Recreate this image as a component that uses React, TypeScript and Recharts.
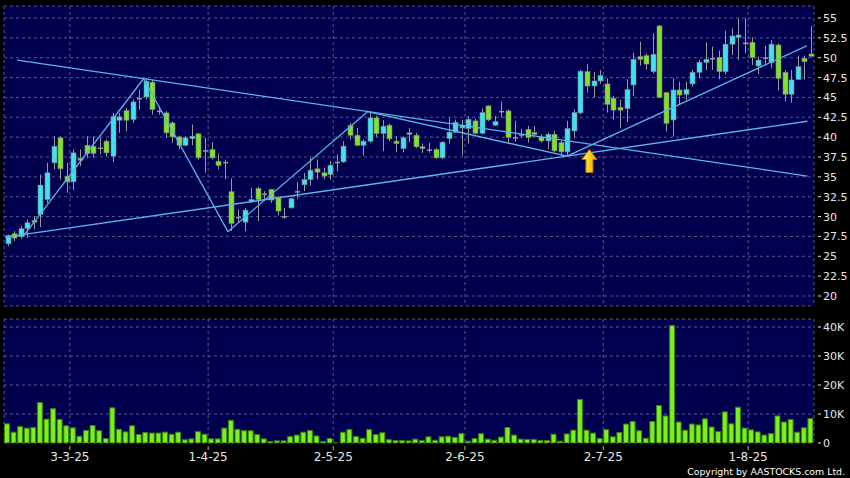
import {
  ComposedChart,
  Bar,
  XAxis,
  YAxis,
  CartesianGrid,
  ReferenceLine,
  ReferenceDot,
} from 'recharts';

const COLORS = {
  page: '#000000',
  panel: '#00004e',
  grid: '#58588c',
  up: '#3ee2f0',
  down: '#80e22a',
  wick: '#9a9a9a',
  edge: '#808080',
  volume: '#7af01c',
  volumeEdge: '#3a7f0c',
  trend: '#5cb4e8',
  text: '#e6e6e6',
};

const FONT = 'DejaVu Sans, Verdana, sans-serif';

// daily candles, oldest first
const openP = [
  26.58, 27.84, 27.46, 28.47, 29.51, 30.27, 32.15, 36.76, 39.91, 35.09,
  34.37, 37.1, 38.98, 38.86, 38.69, 39.49, 37.6, 42.13, 43.34, 42.21,
  44.94, 45.06, 46.91, 43.34, 43.05, 41.79, 40.03, 38.98, 39.82, 40.41,
  38.36, 38.44, 36.97, 36.89, 33.12, 29.97, 29.3, 31.86, 33.54, 32.91,
  33.41, 32.36, 30.06, 31.1, 33.15, 34.0, 34.67, 36.01, 35.51, 35.3,
  36.85, 36.89, 41.46, 40.24, 38.98, 39.49, 42.42, 40.45, 41.5, 39.49,
  38.57, 40.54, 40.24, 38.78, 38.42, 38.44, 37.39, 39.82, 40.62, 41.16,
  41.07, 42.04, 40.49, 43.93, 41.5, 43.26, 43.3, 40.0, 40.36, 40.99,
  40.57, 40.03, 39.52, 40.36, 39.3, 38.14, 40.78, 43.05, 48.24, 46.44,
  47.07, 46.7, 44.9, 43.75, 43.6, 46.57, 50.13, 50.26, 48.24, 54.0,
  45.6, 42.16, 45.94, 45.4, 46.7, 48.16, 49.42, 49.85, 50.05, 48.24,
  51.7, 52.57, 51.9, 51.94, 48.96, 49.95, 49.38, 51.6, 48.16, 45.4,
  47.28, 49.92, 50.47,
];
const highP = [
  27.75, 28.17, 28.8, 29.64, 30.06, 35.3, 36.76, 40.12, 40.12, 36.76,
  38.44, 38.44, 40.12, 40.12, 39.91, 39.7, 43.05, 43.05, 43.68, 44.73,
  45.98, 47.45, 47.24, 43.89, 43.26, 42.0, 40.2, 40.12, 41.58, 40.54,
  39.91, 39.36, 37.94, 37.18, 34.8, 30.9, 31.1, 33.62, 33.75, 33.2,
  33.5, 32.57, 31.1, 32.36, 34.33, 35.51, 37.39, 37.18, 36.13, 36.97,
  37.81, 39.49, 41.79, 41.16, 39.7, 43.13, 42.71, 42.13, 41.71, 40.12,
  40.12, 41.16, 40.54, 39.19, 39.28, 38.65, 39.49, 42.42, 42.21, 42.21,
  42.63, 42.33, 43.6, 44.0, 42.67, 44.47, 43.5, 42.04, 41.0, 41.4,
  41.4, 40.36, 40.57, 40.8, 39.52, 42.04, 43.5, 48.5, 49.2, 48.24,
  48.45, 47.4, 45.2, 44.7, 47.3, 50.6, 52.0, 50.55, 53.07, 54.1,
  45.7, 47.4, 46.98, 47.0, 48.45, 49.7, 51.94, 51.4, 50.9, 53.4,
  53.7, 54.96, 54.96, 52.57, 50.13, 51.5, 52.2, 51.8, 48.45, 48.45,
  50.26, 50.26, 54.0,
];
const lowP = [
  26.29, 26.91, 27.2, 27.33, 28.38, 28.67, 31.73, 35.93, 34.67, 33.0,
  33.33, 36.34, 37.39, 37.39, 37.81, 37.6, 36.85, 40.54, 40.75, 41.79,
  43.47, 44.73, 42.84, 42.84, 39.91, 39.28, 38.44, 38.86, 38.98, 37.18,
  35.51, 37.18, 35.93, 34.67, 28.2, 29.22, 28.17, 31.73, 29.43, 32.15,
  31.73, 30.14, 29.72, 30.98, 32.24, 33.2, 33.91, 34.67, 34.67, 34.67,
  35.72, 36.76, 39.7, 38.86, 37.69, 39.28, 40.03, 38.23, 39.49, 38.1,
  38.1, 39.36, 38.65, 38.02, 38.02, 37.27, 37.27, 39.19, 40.54, 37.69,
  39.19, 40.36, 40.36, 42.04, 41.4, 42.46, 39.3, 39.4, 39.94, 39.3,
  40.07, 39.3, 38.5, 38.06, 37.64, 37.64, 39.94, 42.9, 45.6, 45.0,
  46.7, 43.1, 42.2, 41.1, 41.9, 45.2, 49.0, 48.5, 48.03, 44.9,
  40.7, 40.06, 44.17, 44.7, 46.36, 47.4, 48.45, 48.45, 47.3, 47.9,
  50.34, 49.7, 50.55, 49.08, 47.95, 49.0, 48.66, 45.85, 44.47, 44.34,
  47.2, 47.28, 50.05,
];
const closeP = [
  27.63, 27.29, 28.47, 29.22, 29.3, 33.96, 35.51, 38.86, 36.01, 34.37,
  38.02, 37.35, 37.94, 37.94, 38.65, 38.02, 42.63, 42.55, 42.13, 44.43,
  44.89, 47.03, 43.47, 43.3, 40.54, 40.03, 38.98, 39.91, 40.12, 37.39,
  38.31, 37.39, 36.43, 36.85, 29.14, 29.93, 30.81, 32.15, 32.15, 32.78,
  32.07, 30.69, 30.02, 32.24, 33.2, 34.67, 35.84, 35.59, 35.09, 36.47,
  36.9, 38.86, 40.24, 38.98, 39.49, 42.42, 40.45, 41.37, 39.78, 39.19,
  39.91, 40.33, 38.78, 38.57, 38.46, 37.39, 39.36, 40.62, 41.88, 41.5,
  42.25, 40.49, 43.09, 42.17, 41.96, 43.3, 39.94, 39.94, 40.33, 39.94,
  40.36, 39.52, 40.36, 38.27, 38.14, 41.07, 43.09, 48.3, 46.44, 47.07,
  47.74, 44.13, 43.4, 43.4, 46.0, 49.8, 49.8, 49.2, 50.43, 45.0,
  41.74, 45.94, 45.3, 46.0, 48.16, 49.42, 49.8, 49.95, 48.24, 51.7,
  52.73, 52.86, 51.73, 50.05, 49.7, 50.05, 51.7, 47.4, 45.4, 47.2,
  48.87, 49.5, 50.2,
];
// volume in thousands
const volumeK = [
  6.8, 3.9, 5.9, 5.3, 5.5, 14.1, 8.4, 12.0, 8.3, 6.1,
  5.4, 2.5, 4.5, 6.2, 4.4, 1.7, 12.3, 4.9, 4.0, 6.1,
  3.1, 3.8, 3.6, 3.6, 3.9, 3.2, 3.9, 1.3, 1.6, 4.1,
  3.2, 1.6, 1.6, 5.3, 8.0, 4.9, 4.4, 4.4, 3.1, 1.6,
  0.7, 0.9, 0.9, 2.4, 2.9, 3.9, 4.5, 2.6, 0.7, 1.7,
  0.2, 3.9, 4.8, 2.4, 1.8, 4.8, 3.1, 3.7, 1.3, 1.0,
  1.0, 0.9, 1.5, 1.0, 2.3, 1.1, 2.3, 2.5, 2.1, 3.4,
  0.8, 1.7, 3.4, 1.5, 1.1, 2.2, 5.5, 2.9, 1.5, 1.4,
  1.4, 1.0, 1.0, 3.2, 0.8, 3.3, 4.6, 15.2, 4.6, 3.6,
  1.7, 4.8, 2.3, 3.8, 6.7, 7.6, 4.4, 1.8, 7.6, 13.1,
  9.5, 40.7, 7.4, 4.6, 6.7, 6.4, 8.5, 5.7, 4.1, 10.9,
  6.8, 12.5, 5.3, 4.7, 4.0, 2.9, 3.4, 9.5, 7.4, 8.3,
  3.9, 5.4, 8.6,
];

const dateTicks = [9.5, 30.5, 49.5, 69.5, 90.5, 112.5];
const dateLabels = ['3-3-25', '1-4-25', '2-5-25', '2-6-25', '2-7-25', '1-8-25'];
const priceTicks = [20, 22.5, 25, 27.5, 30, 32.5, 35, 37.5, 40, 42.5, 45, 47.5, 50, 52.5, 55];
const volumeTicks = [0, 10000, 20000, 30000, 40000];

// trend lines as [index, price] pairs
const supportLine = [[-0.3, 27.4], [121.5, 42.0]];
const resistLine = [[1.5, 49.7], [121.5, 35.1]];
const zigzag = [[2.5, 27.6], [20.7, 47.35], [33.5, 28.1], [54.7, 43.2], [85, 37.6], [121.4, 51.5]];
const arrowPoint = [88.4, 38.45];

const data = openP.map((open, i) => ({
  cat: i,
  idx: i,
  open,
  high: highP[i],
  low: lowP[i],
  close: closeP[i],
  range: [lowP[i], highP[i]],
  volume: volumeK[i] * 1000,
}));

const segments = [
  supportLine,
  resistLine,
  ...zigzag.slice(1).map((p, k) => [zigzag[k], p]),
];

function Candle(props: any) {
  const { x, y, width, height, payload } = props;
  const top = Math.min(y, y + height);
  const h = Math.abs(height);
  const { open, close, high, low } = payload;
  const ppu = h / (high - low);
  const yOf = (v: number) => top + (high - v) * ppu;
  const cx = Math.round(x + width / 2) + 0.5;
  const bTop = yOf(Math.max(open, close));
  const bBot = yOf(Math.min(open, close));
  const flat = bBot - bTop < 1.5;
  const fill = flat ? COLORS.wick : close > open ? COLORS.up : COLORS.down;
  return (
    <g>
      <line x1={cx} x2={cx} y1={top} y2={top + h} stroke={COLORS.wick} strokeWidth={1} />
      <rect
        x={cx - 2.5}
        y={bTop}
        width={5}
        height={Math.max(bBot - bTop, 1.5)}
        fill={fill}
        stroke={flat ? 'none' : COLORS.edge}
        strokeWidth={0.6}
      />
    </g>
  );
}

function VolumeBar(props: any) {
  const { x, y, width, height } = props;
  if (!height) return null;
  return (
    <rect
      x={x + 0.5}
      y={y + 0.5}
      width={Math.max(width - 1, 1)}
      height={Math.max(height - 0.5, 0.5)}
      fill={COLORS.volume}
      stroke={COLORS.volumeEdge}
      strokeWidth={1}
    />
  );
}

function Arrow(props: any) {
  const { cx, cy } = props;
  const pts = [
    [cx, cy],
    [cx + 7.5, cy + 10],
    [cx + 3.5, cy + 10],
    [cx + 3.5, cy + 23],
    [cx - 3.5, cy + 23],
    [cx - 3.5, cy + 10],
    [cx - 7.5, cy + 10],
  ]
    .map((p) => p.join(','))
    .join(' ');
  return (
    <g>
      <defs>
        <linearGradient id='arrowFill' x1='0' y1='0' x2='1' y2='0'>
          <stop offset='0%' stopColor='#fff6a0' />
          <stop offset='45%' stopColor='#ffd21e' />
          <stop offset='100%' stopColor='#e89a00' />
        </linearGradient>
      </defs>
      <polygon points={pts} fill='url(#arrowFill)' stroke='#b87800' strokeWidth={1} />
    </g>
  );
}

const fmtPrice = (v: number) => (Number.isInteger(v) ? String(v) : v.toFixed(1));
const fmtVolume = (v: number) => (v === 0 ? '0' : `${v / 1000}K`);

function RightTick(props: any) {
  const { x, y, payload, fmt } = props;
  return (
    <g>
      <line x1={x + 4} x2={x + 7} y1={y} y2={y} stroke={COLORS.text} strokeWidth={1} />
      <text x={x + 9} y={y} dy={4} fill={COLORS.text} fontSize={11} fontFamily={FONT}>
        {fmt(payload.value)}
      </text>
    </g>
  );
}

function DateTick(props: any) {
  const { x, y, payload } = props;
  const label = dateLabels[dateTicks.indexOf(payload.value)];
  return (
    <g>
      <line x1={x} x2={x} y1={y + 3} y2={y + 7} stroke='#b0b0b0' strokeWidth={1} />
      <text x={x} y={y + 18} textAnchor='middle' fill={COLORS.text} fontSize={12} fontFamily={FONT}>
        {label}
      </text>
    </g>
  );
}

export default function App() {
  return (
    <div
      style={{
        position: 'absolute',
        left: 0,
        top: 0,
        width: 850,
        height: 478,
        background: COLORS.page,
        overflow: 'hidden',
      }}
    >
      <ComposedChart
        width={850}
        height={310}
        data={data}
        margin={{ top: 6, right: 0, bottom: 4, left: 4 }}
      >
        <XAxis type='number' dataKey='idx' domain={[-0.5, 122.5]} ticks={dateTicks} interval={0} hide />
        <XAxis xAxisId='cat' dataKey='cat' type='category' hide />
        <YAxis
          orientation='right'
          domain={[18.74, 56.51]}
          ticks={priceTicks}
          interval={0}
          allowDataOverflow
          width={36}
          axisLine={false}
          tickLine={false}
          tickSize={0}
          tickMargin={0}
          tick={(p: any) => <RightTick {...p} fmt={fmtPrice} />}
        />
        <CartesianGrid fill={COLORS.panel} stroke={COLORS.grid} strokeDasharray='3 3' />
        {segments.map((s, k) => (
          <ReferenceLine
            key={`seg-${k}`}
            segment={[
              { x: s[0][0], y: s[0][1] },
              { x: s[1][0], y: s[1][1] },
            ]}
            stroke={COLORS.trend}
            strokeWidth={1.3}
          />
        ))}
        <Bar
          xAxisId='cat'
          dataKey='range'
          barSize={5}
          shape={(p: any) => <Candle {...p} />}
          isAnimationActive={false}
        />
        <ReferenceDot x={arrowPoint[0]} y={arrowPoint[1]} r={1} shape={(p: any) => <Arrow {...p} />} />
      </ComposedChart>

      <div style={{ position: 'absolute', left: 0, top: 310 }}>
        <ComposedChart
          width={850}
          height={168}
          data={data}
          margin={{ top: 9, right: 0, bottom: 0, left: 4 }}
        >
          <XAxis
            type='number'
            dataKey='idx'
            domain={[-0.5, 122.5]}
            ticks={dateTicks}
            interval={0}
            height={35}
            axisLine={false}
            tickLine={false}
            tickSize={0}
            tickMargin={0}
            tick={(p: any) => <DateTick {...p} />}
          />
          <XAxis xAxisId='cat' dataKey='cat' type='category' hide />
          <YAxis
            orientation='right'
            domain={[0, 42760]}
            ticks={volumeTicks}
            interval={0}
            allowDataOverflow
            width={36}
            axisLine={false}
            tickLine={false}
            tickSize={0}
            tickMargin={0}
            tick={(p: any) => <RightTick {...p} fmt={fmtVolume} />}
          />
          <CartesianGrid fill={COLORS.panel} stroke={COLORS.grid} strokeDasharray='3 3' />
          <Bar
            xAxisId='cat'
            dataKey='volume'
            barSize={7}
            shape={(p: any) => <VolumeBar {...p} />}
            isAnimationActive={false}
          />
        </ComposedChart>
      </div>

      <div
        style={{
          position: 'absolute',
          right: 5,
          top: 466,
          color: '#ffffff',
          fontFamily: FONT,
          fontSize: 9.4,
          lineHeight: '11px',
          whiteSpace: 'nowrap',
        }}
      >
        Copyright by AASTOCKS.com Ltd.
      </div>
    </div>
  );
}
